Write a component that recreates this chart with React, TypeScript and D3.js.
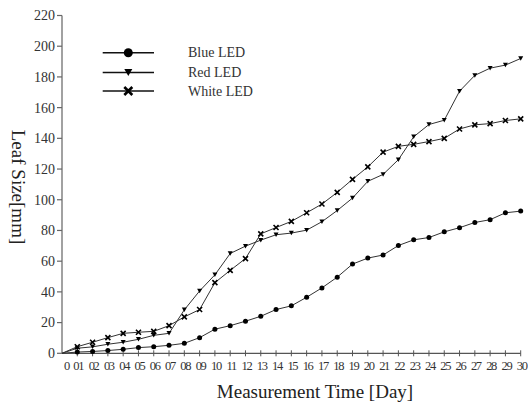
import React, { useEffect, useRef } from 'react';
import * as d3 from 'd3';

const days = d3.range(0, 31);
const dayLabels = ['0', '01', '02', '03', '04', '05', '06', '07', '08', '09', '10', '11', '12', '13', '14', '15',
  '16', '17', '18', '19', '20', '21', '22', '23', '24', '25', '26', '27', '28', '29', '30'];
const yTicks = [0, 20, 40, 60, 80, 100, 120, 140, 160, 180, 200, 220];

const blueLed = [0, 0.8, 1.2, 1.8, 2.6, 3.7, 4.3, 5.2, 6.5, 10.2, 15.7, 18, 20.9, 24.1, 28.5, 30.9,
  36.5, 42.6, 49.6, 58.1, 62, 64, 70.2, 73.9, 75.4, 79.1, 81.8, 85.2, 87, 91.5, 92.6];
const redLed = [0, 3.3, 4.2, 5.9, 7.2, 9.1, 11.7, 13, 28.3, 40.6, 51.1, 65, 69.8, 73.7, 77.2, 78.3,
  80.2, 85.7, 93, 101.1, 112, 116.5, 126.1, 141, 149, 151.8, 170.7, 181, 185.7, 187.7, 192];
const whiteLed = [0, 4.3, 7.2, 10.2, 13, 13.7, 14.3, 18, 23.7, 28.5, 46, 54, 61.7, 77.8, 81.9, 85.9,
  91.5, 97.2, 104.8, 113.3, 121.4, 131, 134.8, 136.1, 137.9, 140, 146.1, 148.8, 149.6, 151.6, 152.7];

const seriesNames = ['Blue LED', 'Red LED', 'White LED'];
const seriesValues = [blueLed, redLed, whiteLed];
const seriesMarkers = ['circle', 'triangle', 'cross'];

const serif = '"Liberation Serif", "DejaVu Serif", serif';

function drawMarker(g: any, kind: string, x: number, y: number, s: number) {
  if (kind === 'circle') {
    g.append('circle').attr('cx', x).attr('cy', y).attr('r', s * 0.5).attr('fill', '#000');
  } else if (kind === 'triangle') {
    const h = s * 0.9;
    g.append('path')
      .attr('d', `M${x - s / 2},${y - h / 2}L${x + s / 2},${y - h / 2}L${x},${y + h / 2}Z`)
      .attr('fill', '#000');
  } else {
    const r = s / 2;
    g.append('path')
      .attr('d', `M${x - r},${y - r}L${x + r},${y + r}M${x - r},${y + r}L${x + r},${y - r}`)
      .attr('stroke', '#000').attr('stroke-width', s > 6 ? 2.6 : 1.6).attr('fill', 'none');
  }
}

const App = () => {
  const svgRef = useRef<SVGSVGElement>(null);

  useEffect(() => {
    const svg = d3.select(svgRef.current);
    svg.selectAll('*').remove();

    const x = d3.scaleLinear().domain([0, 30]).range([62, 520.7]);
    const y = d3.scaleLinear().domain([0, 220]).range([353.3, 15.5]);

    // axes
    svg.append('line').attr('x1', x(0)).attr('x2', x(0)).attr('y1', y(220)).attr('y2', y(0))
      .attr('stroke', '#8a8a8a').attr('stroke-width', 1.6);
    svg.append('line').attr('x1', x(0)).attr('x2', x(30)).attr('y1', y(0)).attr('y2', y(0))
      .attr('stroke', '#555').attr('stroke-width', 1.2);

    yTicks.forEach(t => {
      svg.append('line').attr('x1', x(0) - 5).attr('x2', x(0)).attr('y1', y(t)).attr('y2', y(t))
        .attr('stroke', '#666').attr('stroke-width', 1.2);
      svg.append('text').attr('x', 55).attr('y', y(t)).attr('dy', '0.35em')
        .attr('text-anchor', 'end').attr('font-family', serif).attr('font-size', 14)
        .attr('fill', '#333').text(t);
    });

    days.forEach((d, i) => {
      if (d > 0) {
        svg.append('line').attr('x1', x(d)).attr('x2', x(d)).attr('y1', y(0) - 3).attr('y2', y(0) + 3)
          .attr('stroke', '#555').attr('stroke-width', 1);
      }
      svg.append('text').attr('x', x(d) + (d === 0 ? 4.5 : 1)).attr('y', 370)
        .attr('text-anchor', 'middle').attr('font-family', serif).attr('font-size', 12.5)
        .attr('letter-spacing', -1.3).attr('fill', '#333').text(dayLabels[i]);
    });

    // titles
    svg.append('text').attr('x', 315).attr('y', 398).attr('text-anchor', 'middle')
      .attr('font-family', serif).attr('font-size', 19).attr('fill', '#222')
      .text('Measurement Time [Day]');
    svg.append('text').attr('transform', 'translate(12,187) rotate(90)').attr('text-anchor', 'middle')
      .attr('font-family', serif).attr('font-size', 19).attr('fill', '#222')
      .text('Leaf Size[mm]');

    // series
    const line = d3.line<number>().x((_, i) => x(days[i])).y(v => y(v));
    seriesValues.forEach((vals, si) => {
      const g = svg.append('g');
      g.append('path').attr('d', line(vals)).attr('fill', 'none')
        .attr('stroke', '#333').attr('stroke-width', 1);
      vals.forEach((v, i) => {
        if (i === 0) return;
        drawMarker(g, seriesMarkers[si], x(days[i]), y(v), 5);
      });
    });

    // legend
    const legendY = [52.7, 72.5, 91];
    seriesNames.forEach((name, i) => {
      const g = svg.append('g');
      g.append('line').attr('x1', 102.7).attr('x2', 154).attr('y1', legendY[i]).attr('y2', legendY[i])
        .attr('stroke', '#111').attr('stroke-width', 1.6);
      drawMarker(g, seriesMarkers[i], 128.3, legendY[i], i === 0 ? 9 : 8);
      g.append('text').attr('x', 188).attr('y', legendY[i] + 4.5)
        .attr('font-family', serif).attr('font-size', 14).attr('fill', '#333').text(name);
    });
  }, []);

  return (
    <svg ref={svgRef} width={528} height={405}
      style={{ position: 'absolute', left: 0, top: 0, background: '#fff' }} />
  );
};

export default App;
